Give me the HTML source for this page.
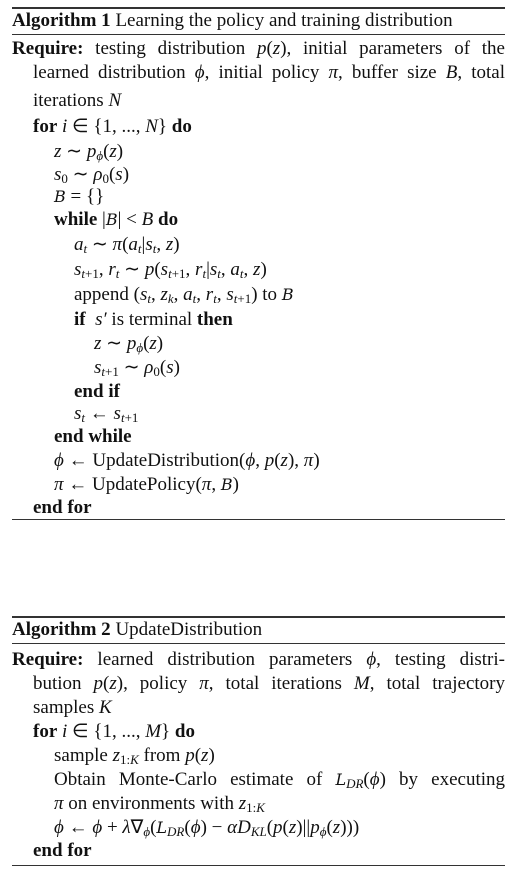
<!DOCTYPE html>
<html><head><meta charset="utf-8">
<style>
body{margin:0;width:521px;height:880px;background:#fff;position:relative;font-family:"Liberation Serif",serif;font-size:19px;color:#111;overflow:hidden}
.l{position:absolute;height:22px;line-height:22px;white-space:nowrap}
.j{text-align:justify;text-align-last:justify}
.r{position:absolute;left:12px;width:493px;background:#333}
i{font-style:italic}
b{font-weight:bold}
sub{font-size:13px;vertical-align:-3px;line-height:0}
.c{font-style:italic;font-family:"DejaVu Serif",serif;font-size:16px}
</style></head><body>
<div class="r" style="top:7px;height:2px"></div>
<div class="l" style="left:12px;top:10px"><b>Algorithm 1</b> Learning the policy and training distribution</div>
<div class="r" style="top:34px;height:1px"></div>
<div>
<div class="l j" style="left:12px;width:493px;top:38px"><b>Require:</b> testing distribution <i>p</i>(<i>z</i>), initial parameters of the</div>
<div class="l j" style="left:33px;width:472px;top:62px">learned distribution <i>ϕ</i>, initial policy <i>π</i>, buffer size <i>B</i>, total</div>
<div class="l" style="left:33px;top:90px">iterations <i>N</i></div>
<div class="l" style="left:33px;top:116px"><b>for</b> <i>i</i> ∈ {1, ..., <i>N</i>} <b>do</b></div>
<div class="l" style="left:54px;top:141px"><i>z</i> ∼ <i>p<sub>ϕ</sub></i>(<i>z</i>)</div>
<div class="l" style="left:54px;top:164px"><i>s</i><sub>0</sub> ∼ <i>ρ</i><sub>0</sub>(<i>s</i>)</div>
<div class="l" style="left:54px;top:186px"><span class="c">B</span> = {}</div>
<div class="l" style="left:54px;top:209px"><b>while</b> |<span class="c">B</span>| &lt; <i>B</i> <b>do</b></div>
<div class="l" style="left:74px;top:234px"><i>a<sub>t</sub></i> ∼ <i>π</i>(<i>a<sub>t</sub></i>|<i>s<sub>t</sub></i>, <i>z</i>)</div>
<div class="l" style="left:74px;top:259px"><i>s</i><sub><i>t</i>+1</sub>, <i>r<sub>t</sub></i> ∼ <i>p</i>(<i>s</i><sub><i>t</i>+1</sub>, <i>r<sub>t</sub></i>|<i>s<sub>t</sub></i>, <i>a<sub>t</sub></i>, <i>z</i>)</div>
<div class="l" style="left:74px;top:284px">append (<i>s<sub>t</sub></i>, <i>z<sub>k</sub></i>, <i>a<sub>t</sub></i>, <i>r<sub>t</sub></i>, <i>s</i><sub><i>t</i>+1</sub>) to <span class="c">B</span></div>
<div class="l" style="left:74px;top:309px"><b>if</b> &nbsp;<i>s′</i> is terminal <b>then</b></div>
<div class="l" style="left:94px;top:333px"><i>z</i> ∼ <i>p<sub>ϕ</sub></i>(<i>z</i>)</div>
<div class="l" style="left:94px;top:357px"><i>s</i><sub><i>t</i>+1</sub> ∼ <i>ρ</i><sub>0</sub>(<i>s</i>)</div>
<div class="l" style="left:74px;top:381px"><b>end if</b></div>
<div class="l" style="left:74px;top:403px"><i>s<sub>t</sub></i> ← <i>s</i><sub><i>t</i>+1</sub></div>
<div class="l" style="left:54px;top:426px"><b>end while</b></div>
<div class="l" style="left:54px;top:450px"><i>ϕ</i> ← UpdateDistribution(<i>ϕ</i>, <i>p</i>(<i>z</i>), <i>π</i>)</div>
<div class="l" style="left:54px;top:474px"><i>π</i> ← UpdatePolicy(<i>π</i>, <span class="c">B</span>)</div>
<div class="l" style="left:33px;top:497px"><b>end for</b></div>
</div>
<div class="r" style="top:519px;height:1px"></div>

<div class="r" style="top:616px;height:2px"></div>
<div class="l" style="left:12px;top:619px"><b>Algorithm 2</b> UpdateDistribution</div>
<div class="r" style="top:643px;height:1px"></div>
<div>
<div class="l j" style="left:12px;width:493px;top:649px"><b>Require:</b> learned distribution parameters <i>ϕ</i>, testing distri-</div>
<div class="l j" style="left:33px;width:472px;top:673px">bution <i>p</i>(<i>z</i>), policy <i>π</i>, total iterations <i>M</i>, total trajectory</div>
<div class="l" style="left:33px;top:697px">samples <i>K</i></div>
<div class="l" style="left:33px;top:721px"><b>for</b> <i>i</i> ∈ {1, ..., <i>M</i>} <b>do</b></div>
<div class="l" style="left:54px;top:745px">sample <i>z</i><sub>1:<i>K</i></sub> from <i>p</i>(<i>z</i>)</div>
<div class="l j" style="left:54px;width:451px;top:769px">Obtain Monte-Carlo estimate of <span class="c">L</span><sub><i>DR</i></sub>(<i>ϕ</i>) by executing</div>
<div class="l" style="left:54px;top:793px"><i>π</i> on environments with <i>z</i><sub>1:<i>K</i></sub></div>
<div class="l" style="left:54px;top:817px"><i>ϕ</i> ← <i>ϕ</i> + <i>λ</i>∇<sub><i>ϕ</i></sub>(<span class="c">L</span><sub><i>DR</i></sub>(<i>ϕ</i>) − <i>αD</i><sub><i>KL</i></sub>(<i>p</i>(<i>z</i>)||<i>p<sub>ϕ</sub></i>(<i>z</i>)))</div>
<div class="l" style="left:33px;top:840px"><b>end for</b></div>
</div>
<div class="r" style="top:865px;height:1px"></div>
</body></html>
